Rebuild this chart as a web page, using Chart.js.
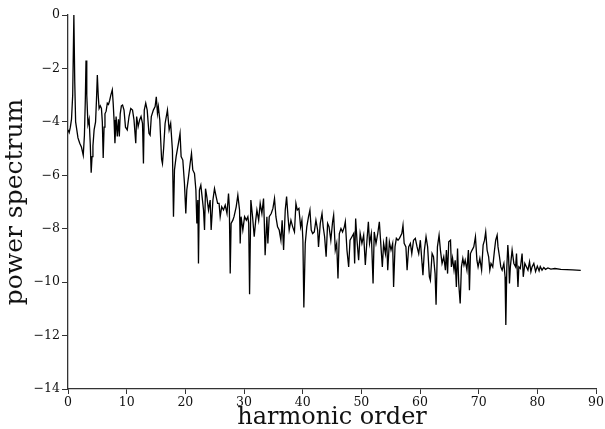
<!DOCTYPE html>
<html>
<head>
<meta charset="utf-8">
<script src="https://cdn.jsdelivr.net/npm/chart.js@4"></script>
<style>
  html, body { margin: 0; padding: 0; background: #fff; }
  #wrap { width: 605px; height: 429px; }
</style>
</head>
<body>
<div id="wrap"><canvas id="spec"></canvas></div>
<script>
// harmonic order (x) and log power spectrum (y)
const harmonic = [
  0.0, 0.2, 0.4, 0.6, 0.8, 1.0, 1.15, 1.3, 1.5, 1.7, 2.0, 2.3, 2.6, 2.8, 2.95, 3.07, 3.2, 3.4, 3.6, 3.8,
  3.95, 4.1, 4.25, 4.45, 4.7, 4.85, 5.0, 5.15, 5.3, 5.5, 5.7, 5.85, 6.0, 6.15, 6.3, 6.5, 6.7, 6.9, 7.1, 7.3,
  7.55, 7.7, 7.85, 8.0, 8.2, 8.4, 8.6, 8.75, 8.9, 9.1, 9.3, 9.55, 9.8, 10.1, 10.4, 10.7, 11.0, 11.25, 11.55, 11.7,
  11.95, 12.2, 12.45, 12.7, 12.86, 13.0, 13.25, 13.5, 13.8, 14.0, 14.2, 14.55, 14.85, 15.05, 15.25, 15.4, 15.65, 15.95, 16.1, 16.3,
  16.55, 16.95, 17.24, 17.5, 17.8, 17.98, 18.15, 18.43, 18.83, 19.1, 19.28, 19.57, 19.85, 20.08, 20.25, 20.54, 20.82, 21.05, 21.27, 21.56,
  21.8, 21.96, 22.13, 22.24, 22.4, 22.64, 22.92, 23.1, 23.27, 23.44, 23.66, 23.95, 24.23, 24.4, 24.7, 24.97, 25.25, 25.5, 25.75, 25.94,
  26.2, 26.5, 26.8, 27.1, 27.36, 27.5, 27.65, 27.8, 28.1, 28.3, 28.67, 28.95, 29.24, 29.35, 29.5, 29.8, 30.1, 30.4, 30.66, 30.8,
  30.95, 31.17, 31.46, 31.74, 32.0, 32.2, 32.5, 32.76, 33.05, 33.33, 33.45, 33.6, 33.9, 34.07, 34.3, 34.64, 34.93, 35.2, 35.44, 35.72,
  36.0, 36.29, 36.5, 36.75, 37.03, 37.26, 37.5, 37.7, 38.0, 38.3, 38.6, 38.85, 39.08, 39.36, 39.65, 39.87, 40.04, 40.2, 40.44, 40.7,
  41.0, 41.24, 41.46, 41.7, 41.98, 42.26, 42.55, 42.7, 43.0, 43.3, 43.5, 43.74, 44.0, 44.25, 44.5, 44.8, 45.1, 45.28, 45.56, 45.8,
  46.02, 46.25, 46.53, 46.8, 47.1, 47.27, 47.55, 47.84, 48.07, 48.4, 48.7, 48.86, 49.03, 49.26, 49.54, 49.8, 50.1, 50.4, 50.68, 50.96,
  51.2, 51.4, 51.7, 52.0, 52.2, 52.5, 52.8, 53.07, 53.35, 53.58, 53.8, 54.1, 54.3, 54.5, 54.78, 55.06, 55.34, 55.5, 55.74, 55.97,
  56.25, 56.5, 56.9, 57.1, 57.3, 57.6, 57.8, 58.07, 58.36, 58.6, 58.9, 59.2, 59.5, 59.78, 60.06, 60.35, 60.5, 60.75, 61.03, 61.3,
  61.6, 61.77, 62.06, 62.3, 62.57, 62.74, 62.97, 63.25, 63.48, 63.76, 64.05, 64.33, 64.5, 64.7, 64.9, 65.2, 65.35, 65.55, 65.8, 66.0,
  66.2, 66.4, 66.6, 66.85, 67.06, 67.3, 67.5, 67.7, 68.0, 68.25, 68.43, 68.6, 68.88, 69.17, 69.45, 69.7, 69.9, 70.2, 70.5, 70.76,
  71.0, 71.2, 71.44, 71.7, 71.9, 72.1, 72.4, 72.7, 72.9, 73.15, 73.3, 73.55, 73.77, 74.0, 74.3, 74.5, 74.63, 74.8, 74.97, 75.1,
  75.25, 75.4, 75.7, 76.0, 76.3, 76.45, 76.7, 76.85, 77.1, 77.4, 77.6, 77.87, 78.15, 78.4, 78.67, 78.9, 79.1, 79.4, 79.7, 80.0,
  80.3, 80.5, 80.8, 81.1, 81.4, 81.8, 82.3, 83.0, 84.0, 85.0, 86.0, 87.4
];
const power = [
  -4.3, -4.4, -4.2, -3.9, -3.0, 0.0, -2.5, -4.0, -4.3, -4.6, -4.8, -4.95, -5.25, -4.5, -3.2, -1.7, -3.0, -4.1, -3.9, -4.85,
  -5.9, -5.3, -4.9, -4.3, -4.0, -3.2, -2.25, -3.0, -3.5, -3.4, -3.5, -4.0, -5.35, -4.2, -3.7, -3.6, -3.3, -3.35, -3.2, -3.0,
  -2.8, -3.3, -3.93, -4.8, -3.8, -4.55, -3.9, -4.55, -3.7, -3.4, -3.37, -3.56, -4.2, -4.3, -3.8, -3.5, -3.56, -3.93, -4.8, -3.8,
  -4.18, -3.93, -3.8, -4.06, -5.56, -3.56, -3.3, -3.56, -4.43, -4.5, -3.8, -3.56, -3.43, -3.06, -3.68, -3.43, -3.93, -5.4, -5.56, -5.0,
  -4.06, -3.56, -4.3, -4.06, -5.06, -7.55, -5.8, -5.3, -4.8, -4.43, -5.3, -5.43, -6.3, -7.43, -6.55, -6.06, -5.56, -5.18, -5.8, -5.93,
  -6.55, -7.8, -6.93, -9.3, -6.55, -6.37, -6.93, -7.3, -8.05, -6.5, -6.8, -7.3, -6.93, -8.05, -6.93, -6.5, -6.8, -7.05, -7.05, -7.55,
  -7.18, -7.3, -7.12, -7.43, -6.68, -7.18, -9.68, -7.8, -7.68, -7.55, -7.18, -6.74, -7.3, -8.55, -7.55, -8.05, -7.55, -7.68, -7.55, -7.8,
  -10.45, -6.93, -7.55, -8.3, -7.68, -7.3, -7.68, -7.05, -7.43, -6.87, -7.68, -8.99, -7.55, -8.55, -7.55, -7.43, -7.24, -6.87, -7.55, -7.93,
  -8.05, -8.43, -7.68, -8.8, -7.3, -6.8, -7.55, -8.05, -7.68, -7.93, -8.12, -7.05, -7.3, -7.24, -7.93, -7.68, -8.43, -10.95, -8.55, -7.93,
  -7.55, -7.3, -8.05, -8.18, -8.12, -7.68, -8.05, -8.68, -7.8, -7.43, -7.93, -8.3, -9.05, -7.8, -7.93, -8.43, -7.74, -7.49, -8.8, -8.55,
  -9.86, -8.18, -7.99, -8.12, -7.93, -7.74, -8.8, -9.43, -8.43, -8.3, -8.18, -9.3, -7.62, -8.43, -9.18, -8.18, -8.55, -8.24, -9.36, -8.43,
  -7.74, -8.55, -8.18, -10.05, -8.12, -8.55, -8.18, -7.74, -8.68, -9.43, -8.55, -8.93, -8.3, -9.55, -8.49, -8.8, -8.55, -10.18, -8.68, -8.36,
  -8.43, -8.36, -8.18, -7.87, -8.55, -8.68, -9.55, -8.68, -8.55, -8.93, -8.43, -8.36, -8.68, -8.93, -8.43, -9.3, -9.74, -8.8, -8.3, -8.68,
  -9.8, -9.93, -8.93, -9.05, -9.68, -10.85, -8.68, -8.24, -8.8, -9.3, -9.05, -9.55, -8.8, -9.68, -8.49, -8.43, -9.43, -9.1, -9.55, -9.18,
  -10.18, -8.74, -10.05, -10.8, -9.43, -9.11, -9.36, -9.18, -9.55, -8.8, -10.3, -8.93, -8.8, -8.68, -8.3, -9.18, -9.43, -9.11, -9.55, -8.61,
  -8.43, -8.12, -8.8, -9.05, -9.55, -9.3, -9.43, -8.8, -8.43, -8.24, -8.68, -9.05, -9.43, -9.55, -9.3, -9.8, -11.6, -9.43, -8.61, -9.05,
  -10.05, -9.43, -8.8, -9.3, -9.43, -8.93, -10.18, -9.43, -9.49, -8.93, -9.8, -9.3, -9.43, -9.55, -9.24, -9.61, -9.43, -9.3, -9.6, -9.4,
  -9.58, -9.42, -9.55, -9.45, -9.52, -9.47, -9.51, -9.49, -9.52, -9.53, -9.54, -9.56
];

const serif = "'DejaVu Serif', 'Liberation Serif', serif";
const ink = '#111';

// minus sign like the printed figure
const fmtTick = v => (v < 0 ? '\u2212' : '') + Math.abs(v);

const points = harmonic.map((h, i) => ({ x: h, y: power[i] }));

new Chart(document.getElementById('spec'), {
    type: 'line',
    data: {
        datasets: [{
            data: points,
            borderColor: '#000',
            borderWidth: 1.3,
            pointRadius: 0,
            tension: 0,
            fill: false
        }]
    },
    options: {
        responsive: true,
        maintainAspectRatio: false,
        animation: false,
        layout: { padding: { top: 15, right: 9, bottom: 0, left: 0 } },
        plugins: { legend: { display: false }, tooltip: { enabled: false } },
        scales: {
            x: {
                type: 'linear',
                min: 0,
                max: 90,
                afterFit: s => { s.height = 40; },
                ticks: { stepSize: 10, color: ink, padding: 1, font: { family: serif, size: 12.5 }, callback: fmtTick },
                grid: { drawOnChartArea: false, tickLength: 5, color: '#333' },
                border: { color: '#333', width: 1.3 },
                title: {
                    display: true,
                    text: 'harmonic order',
                    color: ink,
                    padding: { top: 0, bottom: -1 },
                    font: { family: serif, size: 24, lineHeight: 1 }
                }
            },
            y: {
                min: -14,
                max: 0,
                afterFit: s => { s.width = 68; },
                ticks: { stepSize: 2, color: ink, padding: 2, font: { family: serif, size: 12.5 }, callback: fmtTick },
                grid: { drawOnChartArea: false, tickLength: 6, color: '#333' },
                border: { color: '#333', width: 1.3 },
                title: {
                    display: true,
                    text: 'power spectrum',
                    color: ink,
                    padding: { top: 3, bottom: 0 },
                    font: { family: serif, size: 25, lineHeight: 1 }
                }
            }
        }
    }
});
</script>
</body>
</html>
